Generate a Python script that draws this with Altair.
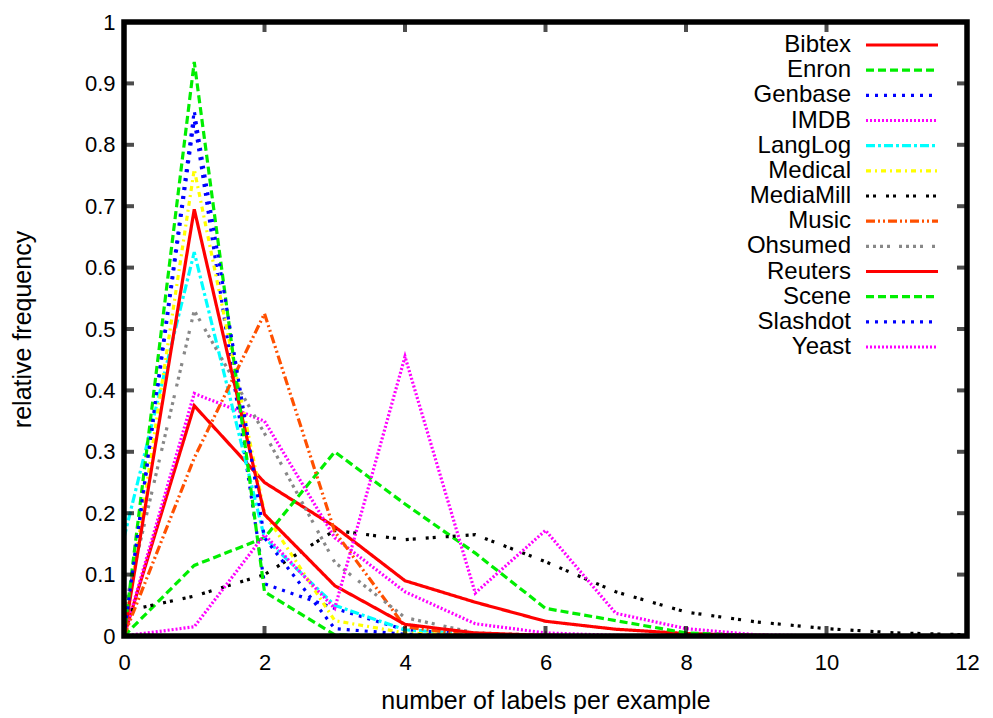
import altair as alt
import pandas as pd

# Relative frequency of the number of labels per example, one list per dataset
labels = list(range(13))

series = ["Bibtex", "Enron", "Genbase", "IMDB", "LangLog", "Medical", "MediaMill",
          "Music", "Ohsumed", "Reuters", "Scene", "Slashdot", "Yeast"]

bibtex = [0.0, 0.375, 0.25, 0.178, 0.09, 0.055, 0.024, 0.011, 0.004, 0.001, 0.0]
enron = [0.0, 0.115, 0.16, 0.30, 0.215, 0.135, 0.045, 0.025, 0.005, 0.001, 0.0]
genbase = [0.0, 0.84, 0.085, 0.045, 0.01, 0.003, 0.0]
imdb = [0.0, 0.395, 0.35, 0.16, 0.072, 0.02, 0.005, 0.001, 0.0]
langlog = [0.16, 0.625, 0.16, 0.05, 0.01, 0.003, 0.0]
medical = [0.0, 0.76, 0.20, 0.025, 0.005, 0.001, 0.0]
mediamill = [0.04, 0.065, 0.10, 0.172, 0.157, 0.165, 0.121, 0.072, 0.039, 0.023, 0.012, 0.005, 0.002]
music = [0.0, 0.29, 0.525, 0.17, 0.015, 0.0, 0.0]
ohsumed = [0.04, 0.53, 0.33, 0.12, 0.03, 0.005, 0.001, 0.0]
reuters = [0.0, 0.695, 0.198, 0.082, 0.019, 0.005, 0.001, 0.0]
scene = [0.0, 0.935, 0.072, 0.002, 0.0]
slashdot = [0.0, 0.855, 0.16, 0.012, 0.003, 0.0]
yeast = [0.0, 0.015, 0.165, 0.045, 0.455, 0.07, 0.172, 0.037, 0.012, 0.002, 0.0]

values = [bibtex, enron, genbase, imdb, langlog, medical, mediamill,
          music, ohsumed, reuters, scene, slashdot, yeast]

colors = ["#ff0000", "#00ee00", "#0000ff", "#ff00ff", "#00ffff", "#ffff00", "#000000",
          "#ff5000", "#888888", "#ff0000", "#00ee00", "#0000ff", "#ff00ff"]

dashes = [[1, 0], [8, 4], [3, 6], [2, 2], [9, 3, 3, 3], [5, 4, 2, 4], [3, 4, 3, 10],
          [9, 3, 2, 3, 2, 3], [3, 4, 3, 4, 3, 4, 3, 9], [1, 0], [8, 4], [3, 6], [2, 2]]

x_ticks = [0, 2, 4, 6, 8, 10, 12]
y_ticks = [0, 0.1, 0.2, 0.3, 0.4, 0.5, 0.6, 0.7, 0.8, 0.9, 1.0]

rows = []
for name, vals in zip(series, values):
    for k, v in enumerate(vals):
        rows.append({"series": name, "labels": labels[k], "freq": v})
df = pd.DataFrame(rows)

legend_df = pd.DataFrame({"series": series})
xtick_df = pd.DataFrame({"v": x_ticks[1:-1]})
ytick_df = pd.DataFrame({"v": y_ticks[1:-1]})

W, H = 843, 614
FONT = "Liberation Sans"

x_scale = alt.Scale(domain=[0, 12], nice=False, zero=False)
y_scale = alt.Scale(domain=[0, 1], nice=False)
color_scale = alt.Scale(domain=series, range=colors)
dash_scale = alt.Scale(domain=series, range=dashes)

lines = alt.Chart(df).mark_line(
    strokeWidth=3.2, clip=True, strokeCap="butt", strokeJoin="miter"
).encode(
    x=alt.X("labels:Q", scale=x_scale,
            axis=alt.Axis(values=x_ticks, format="d", title="number of labels per example",
                          ticks=False, domain=False, grid=False, labelFlush=False,
                          labelOverlap=False, labelPadding=16, labelFontSize=22,
                          titleFontSize=25, titleY=64, titleBaseline="middle")),
    y=alt.Y("freq:Q", scale=y_scale,
            axis=alt.Axis(values=y_ticks, format=".1~f", title="relative frequency",
                          ticks=False, domain=False, grid=False, labelFlush=False,
                          labelOverlap=False, labelPadding=9, labelFontSize=22,
                          titleFontSize=25, titleX=-102, titleBaseline="middle")),
    color=alt.Color("series:N", scale=color_scale, legend=None),
    strokeDash=alt.StrokeDash("series:N", scale=dash_scale, legend=None),
)

# inward tick marks on all four sides of the frame
tick_style = dict(thickness=4, size=20, color="black", clip=True)
left_ticks = alt.Chart(ytick_df).mark_tick(**tick_style).encode(
    y=alt.Y("v:Q", scale=y_scale), x=alt.value(0))
right_ticks = alt.Chart(ytick_df).mark_tick(**tick_style).encode(
    y=alt.Y("v:Q", scale=y_scale), x=alt.value("width"))
bottom_ticks = alt.Chart(xtick_df).mark_tick(**tick_style).encode(
    x=alt.X("v:Q", scale=x_scale), y=alt.value("height"))
top_ticks = alt.Chart(xtick_df).mark_tick(**tick_style).encode(
    x=alt.X("v:Q", scale=x_scale), y=alt.value(0))

frame = alt.Chart(legend_df.head(1)).mark_rect(
    fillOpacity=0, stroke="black", strokeWidth=5.5
).encode(x=alt.value(0), x2=alt.value("width"), y=alt.value(0), y2=alt.value("height"))

# key: names right-aligned, line samples to their right
legend_y = alt.Y("series:N", sort=series, axis=None,
                 scale=alt.Scale(type="point", domain=series, range=[23, 325], padding=0))
legend_text = alt.Chart(legend_df).mark_text(
    align="right", baseline="middle", fontSize=24, font=FONT, color="black"
).encode(y=legend_y, x=alt.value(727), text="series:N")
legend_lines = alt.Chart(legend_df).mark_rule(strokeWidth=3.2, strokeCap="butt").encode(
    y=legend_y, x=alt.value(742), x2=alt.value(814),
    color=alt.Color("series:N", scale=color_scale, legend=None),
    strokeDash=alt.StrokeDash("series:N", scale=dash_scale, legend=None),
)

left = alt.layer(lines, left_ticks, right_ticks, bottom_ticks, top_ticks, frame)
chart = alt.layer(left, legend_text, legend_lines).resolve_scale(y="independent").properties(
    width=W, height=H,
    padding={"left": 124, "top": 22, "right": 26, "bottom": 82},
    autosize=alt.AutoSizeParams(type="none"),
    background="white",
).configure_view(stroke=None).configure_axis(
    labelFont=FONT, titleFont=FONT, labelColor="black", titleColor="black",
    titleFontWeight="normal",
)

chart.save("out.html", embed_options={"renderer": "svg", "actions": False})
